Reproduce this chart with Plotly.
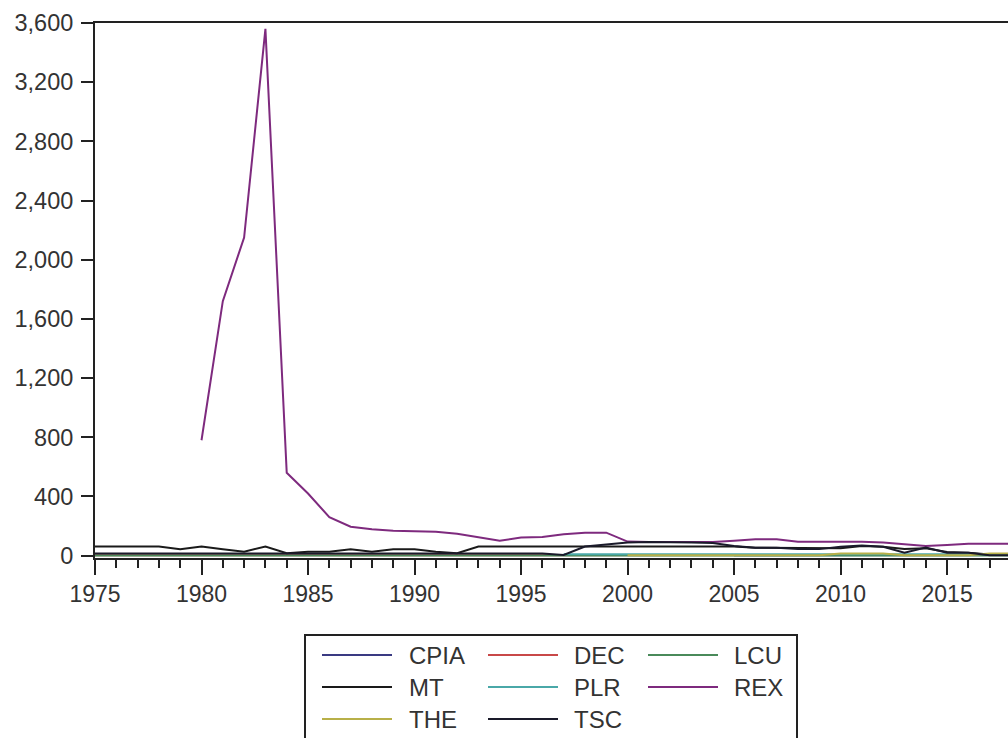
import plotly.graph_objects as go

years = list(range(1975, 2019))

CPIA = [None] * 30 + [3.2, 3.2, 3.3, 3.3, 3.3, 3.4, 3.4, 3.4, 3.5, 3.5, 3.5, 3.5, 3.5, 3.5]
DEC = [2, 2, 2, 3, 3, 3, 3, 3, 4, 4, 4, 4, 4, 4, 4, 4, 5, 5, 5, 5, 5, 5, 5, 5, 5, 5, 5, 5, 5, 5,
       5, 5, 5, 5, 5, 5, 5, 5, 5, 5, 5, 5, 5, 5]
LCU = [1] * 44
MT = [61, 61, 61, 61, 43, 61, 43, 27, 61, 16, 27, 27, 43, 27, 43, 43, 27, 16, 61, 61, 61, 61,
      61, 61, 61, 61, 61, 61, 61, 61, 61, 54, 54, 50, 50, 50, 65, 60, 45, 50, 25, 20, 8, 5]
PLR = [None] * 22 + [10] * 22
REX = [None] * 5 + [780, 1720, 2150, 3560, 560, 420, 260, 195, 178, 168, 165, 162, 148, 126, 100,
                    122, 126, 144, 155, 155, 95, 92, 92, 92, 92, 100, 110, 110, 94, 94, 94, 94,
                    88, 76, 65, 72, 81, 81, 81]
THE = [None] * 25 + [2, 2, 2, 2, 2, 2, 2, 2, 2, 2, 14, 14, 14, 2, 2, 2, 2, 14, 14]
TSC = [14] * 22 + [5, 62, 75, 88, 92, 92, 88, 85, 65, 54, 54, 44, 44, 60, 68, 60, 20, 55, 20,
                   20, 3, 3]

series_names = ["CPIA", "DEC", "LCU", "MT", "PLR", "REX", "THE", "TSC"]
series_values = [CPIA, DEC, LCU, MT, PLR, REX, THE, TSC]
series_colors = ["#3a3a82", "#c84848", "#4a8a5a", "#1a1a1a", "#4aa8a8", "#7e2a7e", "#b8b048", "#1a1a2a"]

y_ticks = [0, 400, 800, 1200, 1600, 2000, 2400, 2800, 3200, 3600]
x_ticks = [1975, 1980, 1985, 1990, 1995, 2000, 2005, 2010, 2015]

W, H = 1008, 738
L, R, T, B = 95, 0, 23, 180
PW, PH = W - L - R, H - T - B

def px(x):
    return (x - L) / PW

def py(y):
    return (H - B - y) / PH

fig = go.Figure()
for name, vals, col in zip(series_names, series_values, series_colors):
    fig.add_trace(go.Scatter(x=years, y=vals, name=name, mode="lines",
                             line=dict(color=col, width=2), connectgaps=False,
                             showlegend=False, hoverinfo="skip"))

font_col = "#333333"
fig.update_layout(
    width=W, height=H,
    margin=dict(l=L, r=R, t=T, b=B),
    paper_bgcolor="white", plot_bgcolor="white",
    font=dict(family="Liberation Sans, Arial, sans-serif", size=23, color=font_col),
    xaxis=dict(range=[1975, 2017.86], tickvals=x_ticks, ticks="outside", ticklen=15,
               tickwidth=2, tickcolor="#222", showline=True, linecolor="#222", linewidth=2,
               mirror=True, showgrid=False, zeroline=False, ticklabelstandoff=-1,
               minor=dict(dtick=1, tick0=1975, ticks="outside", ticklen=8, tickwidth=2,
                          tickcolor="#222", showgrid=False),
               tickfont=dict(size=23, color=font_col)),
    yaxis=dict(range=[-16, 3600], tickvals=y_ticks, tickformat=",", ticks="outside",
               ticklen=12, tickwidth=2, tickcolor="#222", showline=True, linecolor="#222",
               linewidth=2, mirror=False, showgrid=False, zeroline=False,
               ticklabelstandoff=3, tickfont=dict(size=23.5, color=font_col)),
)

# legend box drawn below the plot (EViews-style, 3 columns)
shapes = [dict(type="rect", xref="paper", yref="paper", x0=px(305), x1=px(797),
               y0=py(750), y1=py(635), line=dict(color="#222", width=2), fillcolor="white",
               layer="above")]
annotations = []
cols_x = [(322, 392, 407), (488, 558, 572), (648, 718, 732)]
rows_y = [655, 687, 719]
for i, (name, col) in enumerate(zip(series_names, series_colors)):
    r, c = divmod(i, 3)
    x0, x1, xt = cols_x[c]
    yy = rows_y[r]
    shapes.append(dict(type="line", xref="paper", yref="paper", x0=px(x0), x1=px(x1),
                       y0=py(yy), y1=py(yy), line=dict(color=col, width=2)))
    annotations.append(dict(text=name, xref="paper", yref="paper", x=px(xt), y=py(yy),
                            xanchor="left", yanchor="middle", showarrow=False,
                            font=dict(size=24, color=font_col)))
fig.update_layout(shapes=shapes, annotations=annotations)

fig.write_html("out.html", config={"displayModeBar": False},
               post_script="document.body.style.margin='0';document.body.style.overflow='hidden';")
